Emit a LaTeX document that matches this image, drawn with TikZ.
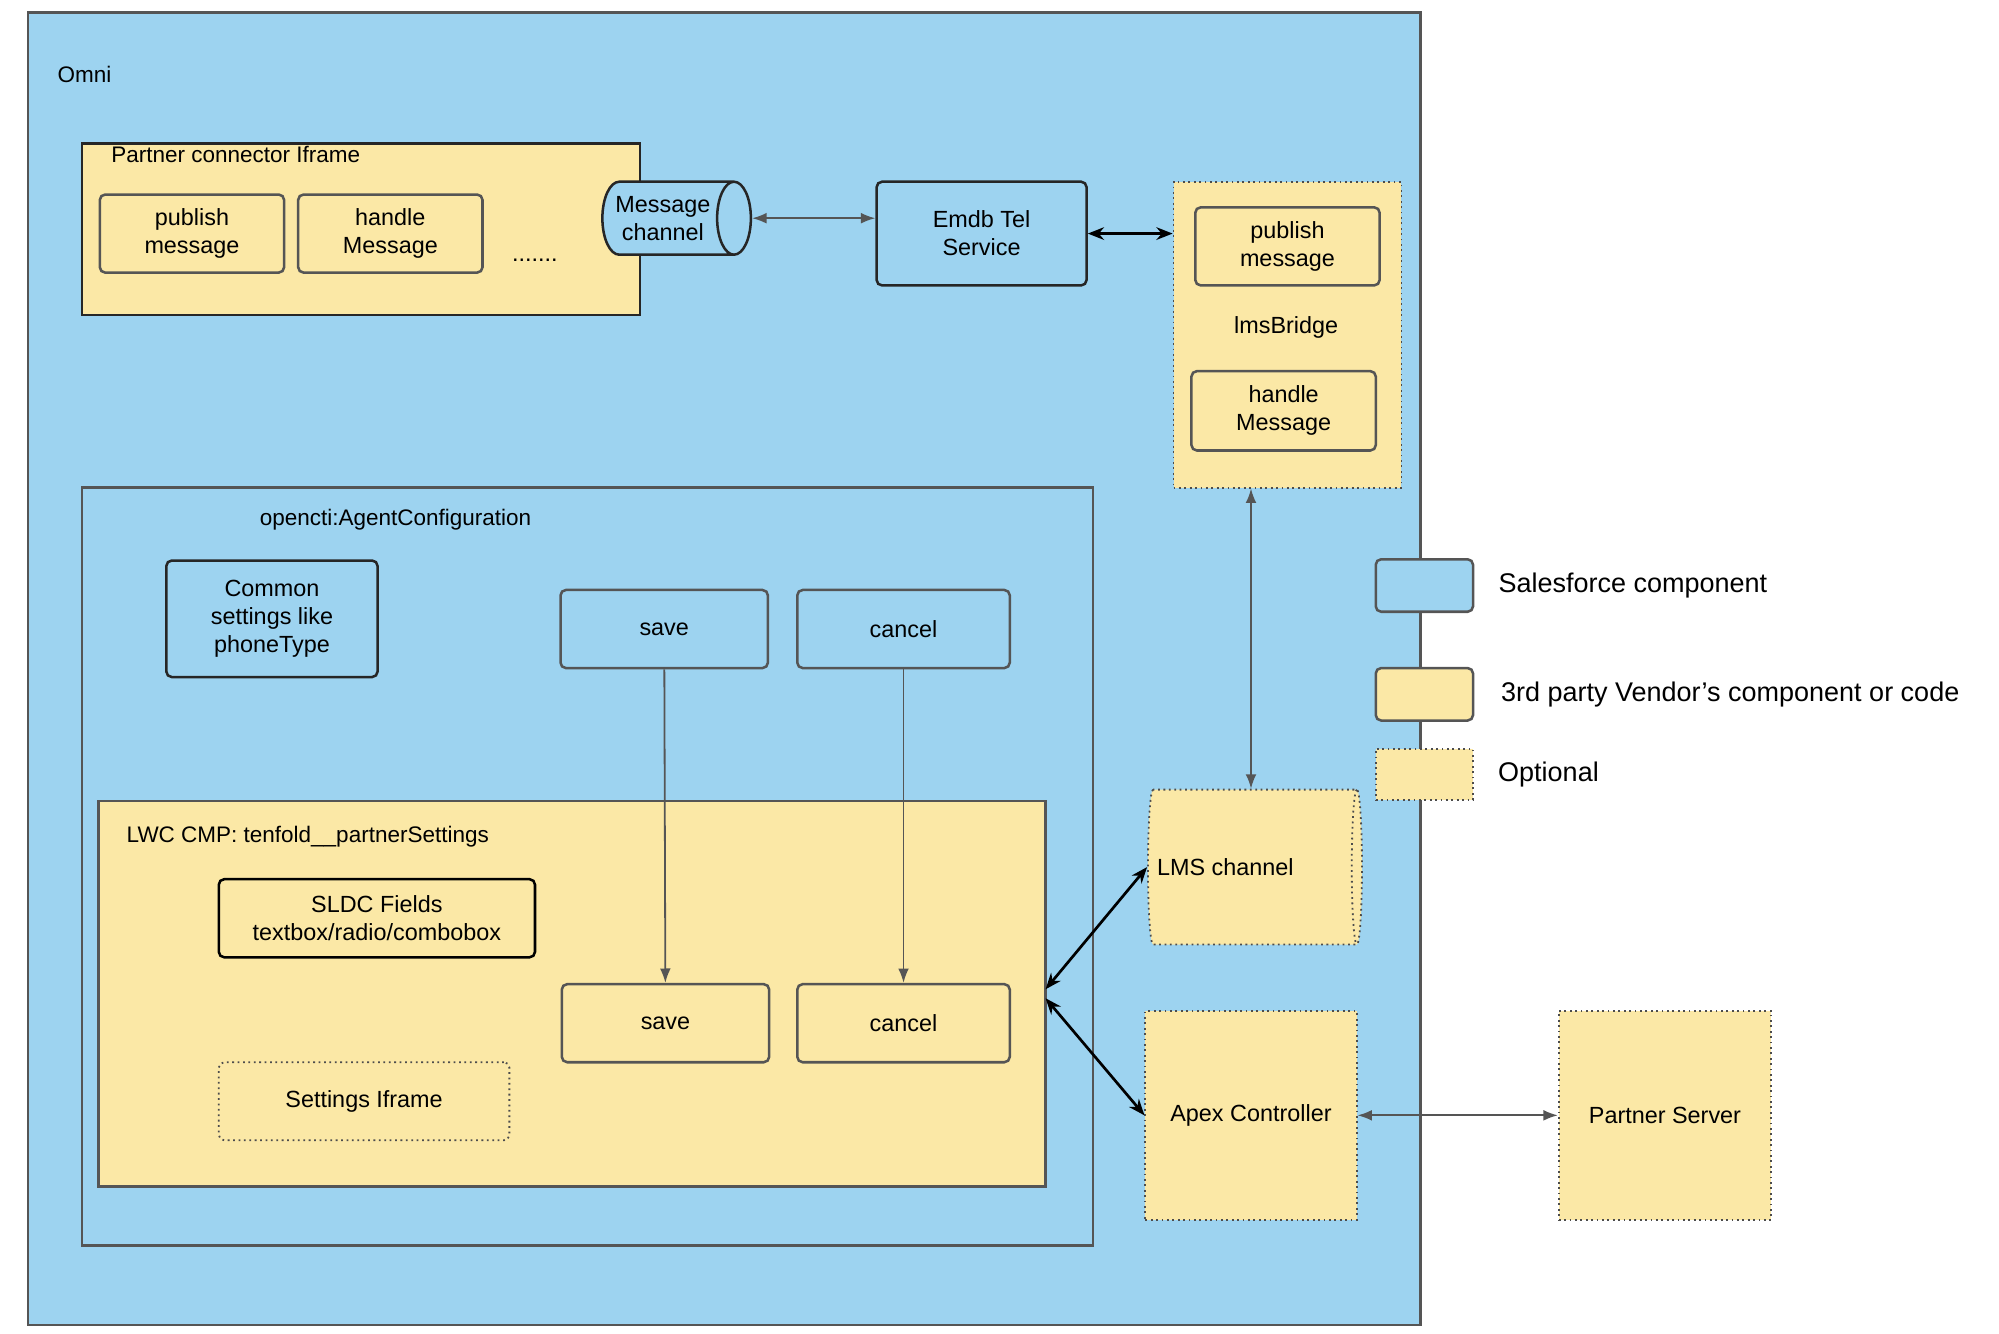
\documentclass[tikz,border=0pt]{standalone}
\usepackage{fontspec}
\setmainfont{Liberation Sans}
\usetikzlibrary{positioning,shapes.geometric,arrows.meta}
\definecolor{sfblue}{HTML}{9DD3F0}
\definecolor{vendor}{HTML}{FBE8A6}
\definecolor{edge}{HTML}{555555}
\begin{document}
\begin{tikzpicture}[x=0.025cm, y=-0.025cm,
    every node/.style={font=\fontsize{13}{15.5}\selectfont, align=center},
    sf/.style={rectangle, draw=edge, line width=1.4pt, rounded corners=3pt, fill=sfblue},
    sfdark/.style={sf, draw=black!85},
    third/.style={rectangle, draw=edge, line width=1.4pt, rounded corners=3pt, fill=vendor},
    optional/.style={rectangle, draw=black!70, dotted, line width=1pt, fill=vendor},
    frame/.style={rectangle, draw=edge, line width=1.4pt},
    label/.style={anchor=west, font=\fontsize{12.5}{15}\selectfont},
    link/.style={<->, >={Latex[length=8pt,width=6pt]}, draw=edge, line width=1pt},
    strong/.style={<->, >={Stealth[length=9pt,width=7pt]}, draw=black, line width=1.5pt}
]
\useasboundingbox (0,0) rectangle (1562,1042);

% Outer frame
\node[frame, fill=sfblue, minimum width=27.2cm, minimum height=25.625cm] (omni) at (566,522.5) {};
\node[label] at (40,58) {Omni};

% Partner connector iframe
\node[rectangle, draw=black!85, line width=1.4pt, fill=vendor, minimum width=10.9cm, minimum height=3.35cm] (iframe) at (282,179) {};
\node[label] at (82,121) {Partner connector Iframe};
\node[third, minimum width=3.6cm, minimum height=1.525cm] (pubA) at (150,182.5) {publish\\message};
\node[third, minimum width=3.6cm, minimum height=1.525cm] (handA) at (305,182.5) {handle\\Message};
\node at (418,203) {.......};
\node[cylinder, draw=black!85, line width=1.4pt, fill=sfblue, aspect=0.6, minimum width=1.425cm, minimum height=2.9cm, shape border rotate=0, inner xsep=1pt] (msg) at (518,170.5) {Message\\channel};

\node[sfdark, minimum width=4.1cm, minimum height=2.025cm] (emdb) at (767,182.5) {Emdb Tel\\Service};

% lmsBridge
\node[optional, minimum width=4.45cm, minimum height=5.975cm] (bridge) at (1006,261.5) {};
\node[third, minimum width=3.6cm, minimum height=1.525cm] (pubB) at (1006,192.5) {publish\\message};
\node at (1005,256) {lmsBridge};
\node[third, minimum width=3.6cm, minimum height=1.55cm] (handB) at (1003,321) {handle\\Message};

% Agent configuration
\node[frame, minimum width=19.75cm, minimum height=14.8cm] (agent) at (459,677) {};
\node[label] at (198,406) {opencti:AgentConfiguration};
\node[sfdark, minimum width=4.125cm, minimum height=2.275cm] (common) at (212.5,483.5) {Common\\settings like\\phoneType};
\node[sf, minimum width=4.05cm, minimum height=1.525cm] (saveA) at (519,491.5) {save};
\node[sf, minimum width=4.15cm, minimum height=1.525cm] (cancelA) at (706,491.5) {cancel};

% LWC component
\node[rectangle, draw=edge, line width=1.4pt, fill=vendor, minimum width=18.5cm, minimum height=7.525cm] (lwc) at (447,776.5) {};
\node[label] at (94,654) {LWC CMP: tenfold\_\_partnerSettings};
\node[rectangle, draw=black, line width=1.4pt, rounded corners=3pt, fill=vendor, minimum width=6.175cm, minimum height=1.525cm] (sldc) at (294.5,717.5) {SLDC Fields\\textbox/radio/combobox};
\node[third, minimum width=4.05cm, minimum height=1.525cm] (saveB) at (520,799.5) {save};
\node[third, minimum width=4.15cm, minimum height=1.525cm] (cancelB) at (706,799.5) {cancel};
\node[optional, rounded corners=3pt, minimum width=5.675cm, minimum height=1.525cm] (settings) at (284.5,860.5) {Settings Iframe};

% Right side
\node[cylinder, draw=black!70, dotted, line width=1pt, fill=vendor, aspect=0.35, minimum width=3.025cm, minimum height=4.025cm, shape border rotate=0] (lms) at (977.5,677.5) {LMS channel\hspace*{1.0cm}};
\node[optional, minimum width=4.125cm, minimum height=4.075cm] (apex) at (977.5,871.5) {Apex Controller};
\node[optional, minimum width=4.15cm, minimum height=4.075cm] (partner) at (1301,871.5) {Partner Server};

% Legend
\node[sf, minimum width=1.9cm, minimum height=1.025cm] (legA) at (1113,457.5) {};
\node[anchor=west, font=\fontsize{15}{18}\selectfont, right=0.35cm of legA] {Salesforce component};
\node[third, minimum width=1.9cm, minimum height=1.025cm] (legB) at (1113,542.5) {};
\node[anchor=west, font=\fontsize{15}{18}\selectfont, right=0.4cm of legB] {3rd party Vendor's component or code};
\node[optional, minimum width=1.9cm, minimum height=1.0cm] (legC) at (1113,605) {};
\node[anchor=west, font=\fontsize{15}{18}\selectfont, right=0.35cm of legC] {Optional};

% Connectors
\coordinate (lwcA) at (817,773);
\coordinate (lwcB) at (817,780);
\draw[link] (msg.east) -- (msg.east -| emdb.west);
\draw[strong] (emdb.east) -- (emdb.east -| bridge.west);
\draw[link] (bridge.south -| lms.north) -- (lms.north);
\draw[-{Latex[length=8pt,width=6pt]}, draw=edge, line width=1pt] (saveA) -- (saveB);
\draw[-{Latex[length=8pt,width=6pt]}, draw=edge, line width=1pt] (cancelA) -- (cancelB);
\draw[strong] (lwcA) -- (lms.west);
\draw[strong] (lwcB) -- (apex.west);
\draw[link] (apex) -- (partner);
\end{tikzpicture}
\end{document}
